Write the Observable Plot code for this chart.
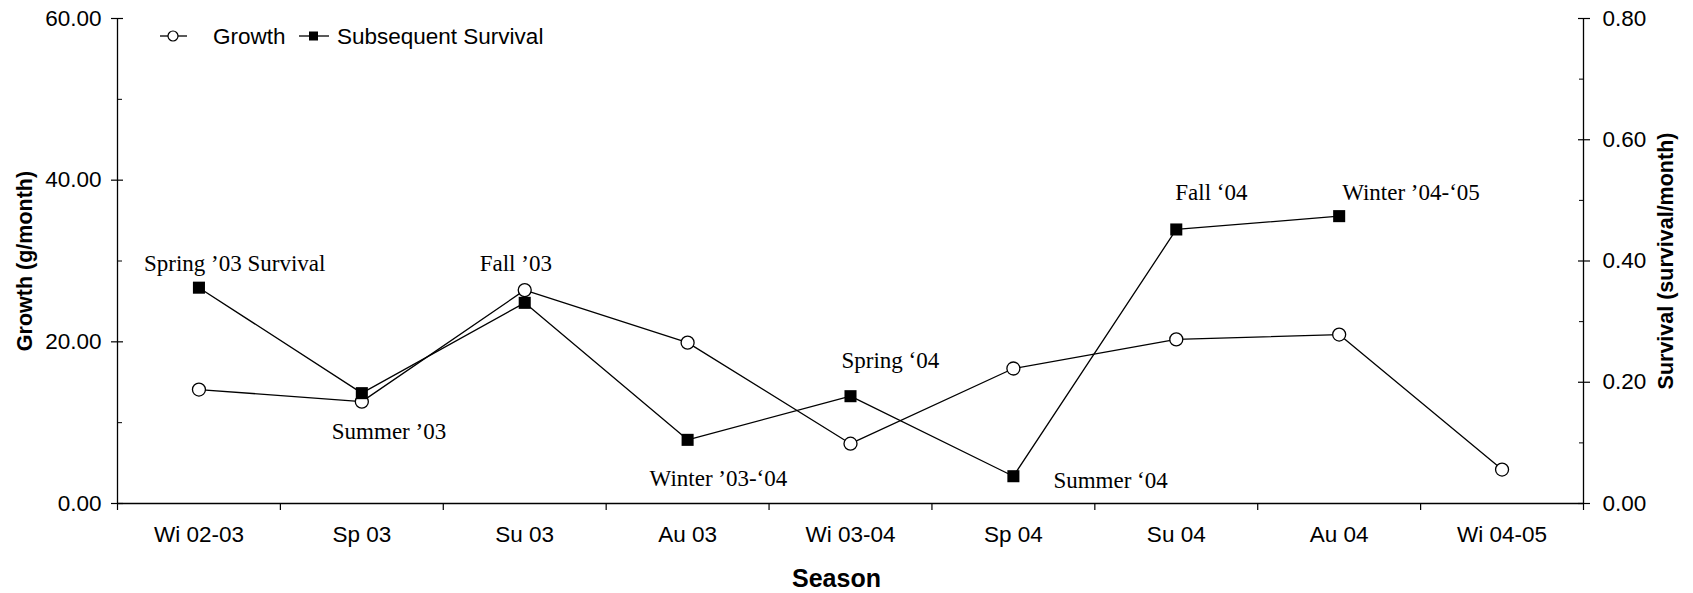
<!DOCTYPE html>
<html>
<head>
<meta charset="utf-8">
<script src="https://cdn.jsdelivr.net/npm/d3@7"></script>
<script src="https://cdn.jsdelivr.net/npm/@observablehq/plot@0.6"></script>
<style>
  body { margin: 0; background: #fff; }
  #wrap { position: relative; width: 1693px; height: 593px; }
  #legend { position: absolute; left: 0; top: 0; }
</style>
</head>
<body>
<div id="wrap"></div>
<script>
// ---- data ----
const seasons = ["Wi 02-03", "Sp 03", "Su 03", "Au 03", "Wi 03-04", "Sp 04", "Su 04", "Au 04", "Wi 04-05"];
const growth = [14.1, 12.6, 26.4, 19.9, 7.4, 16.7, 20.3, 20.9, 4.2];
const survival = [0.356, 0.182, 0.331, 0.105, 0.177, 0.045, 0.452, 0.474, null];
const annotations = ["Spring ’03 Survival", "Summer ’03", "Fall ’03", "Winter ’03-‘04", "Spring ‘04", "Summer ‘04", "Fall ‘04", "Winter ’04-‘05"];
const growthTicks = [0, 20, 40, 60];
const growthMinorTicks = [10, 30, 50];
const survivalTicks = [0, 0.2, 0.4, 0.6, 0.8];
const survivalMinorTicks = [0.1, 0.3, 0.5, 0.7];
const seriesNames = ["Growth", "Subsequent Survival"];
const xTitle = "Season";
const yLeftTitle = "Growth (g/month)";
const yRightTitle = "Survival (survival/month)";

// ---- layout ----
const growthMax = 60, survivalMax = 0.8;
const k = growthMax / survivalMax; // survival -> growth units
const labelOffsets = [[-55, -24], [-30, 38], [-45, -39], [-38, 39], [-9, -36], [40, 4], [-1, -37], [3, -24]];

const rows = seasons.map((s, i) => ({i, season: s, growth: growth[i], survival: survival[i]}));
const survRows = rows.filter(d => d.survival != null);
const xPos = d => d.i + 0.5;
const ySurv = d => d.survival * k;
const sans = "'Liberation Sans', Arial, sans-serif";
const serif = "'Liberation Serif', 'Times New Roman', serif";
const blank = () => "";
const tickFont = 22.5;

const annotationMarks = survRows.map((d, j) =>
  Plot.text([d], {
    x: xPos, y: ySurv, text: () => annotations[j],
    dx: labelOffsets[j][0], dy: labelOffsets[j][1],
    textAnchor: "start", fontFamily: serif, fontSize: 23, fill: "black"
  })
);

const chart = Plot.plot({
  width: 1693,
  height: 593,
  marginLeft: 117,
  marginRight: 110,
  marginTop: 18,
  marginBottom: 90,
  style: {fontFamily: sans, background: "white", color: "black", overflow: "visible"},
  x: {domain: [0, seasons.length], axis: null},
  y: {domain: [0, growthMax], axis: null},
  marks: [
    // axis lines
    Plot.ruleY([0], {stroke: "black", strokeWidth: 1.3}),
    Plot.ruleX([0], {stroke: "black", strokeWidth: 1.3}),
    Plot.ruleX([seasons.length], {stroke: "black", strokeWidth: 1.3}),
    // x ticks at category boundaries
    Plot.axisX(d3.range(0, seasons.length + 1), {anchor: "bottom", tickSize: 7, tickFormat: blank, label: null, strokeWidth: 1.2}),
    // x tick labels
    Plot.text(rows, {x: xPos, y: () => 0, dy: 31, text: "season", fontSize: tickFont, fill: "black"}),
    // left axis
    Plot.axisY(growthTicks, {anchor: "left", tickSize: 6, tickPadding: 10, tickFormat: d3.format(".2f"), fontSize: tickFont, label: null, strokeWidth: 1.2}),
    Plot.axisY(growthTicks, {anchor: "left", tickSize: 6, dx: 6, tickFormat: blank, label: null, strokeWidth: 1.2}),
    Plot.axisY(growthMinorTicks, {anchor: "left", tickSize: 5, dx: 5, tickFormat: blank, label: null, strokeWidth: 1}),
    // right axis
    Plot.axisY(survivalTicks.map(v => v * k), {anchor: "right", tickSize: 6, tickPadding: 13, tickFormat: v => (v / k).toFixed(2), fontSize: tickFont, label: null, strokeWidth: 1.2}),
    Plot.axisY(survivalTicks.map(v => v * k), {anchor: "right", tickSize: 6, dx: -6, tickFormat: blank, label: null, strokeWidth: 1.2}),
    Plot.axisY(survivalMinorTicks.map(v => v * k), {anchor: "right", tickSize: 5, dx: -5, tickFormat: blank, label: null, strokeWidth: 1}),
    // axis titles
    Plot.text([xTitle], {text: d => d, frameAnchor: "bottom", textAnchor: "middle", lineAnchor: "middle", dx: -14, dy: 75, fontSize: 25, fontWeight: "bold", fill: "black"}),
    Plot.text([yLeftTitle], {text: d => d, frameAnchor: "left", textAnchor: "middle", lineAnchor: "middle", rotate: -90, dx: -92, fontSize: 21.5, fontWeight: "bold", fill: "black"}),
    Plot.text([yRightTitle], {text: d => d, frameAnchor: "right", textAnchor: "middle", lineAnchor: "middle", rotate: -90, dx: 83, fontSize: 21.5, fontWeight: "bold", fill: "black"}),
    // series
    Plot.line(rows, {x: xPos, y: "growth", stroke: "black", strokeWidth: 1.3}),
    Plot.dot(rows, {x: xPos, y: "growth", r: 6.5, fill: "white", stroke: "black", strokeWidth: 1.3}),
    Plot.line(survRows, {x: xPos, y: ySurv, stroke: "black", strokeWidth: 1.3}),
    Plot.dot(survRows, {x: xPos, y: ySurv, r: 6.8, symbol: "square", fill: "black", stroke: "none"}),
    ...annotationMarks
  ]
});

const wrap = document.getElementById("wrap");
wrap.appendChild(chart);

// legend overlay
const ns = "http://www.w3.org/2000/svg";
const leg = document.createElementNS(ns, "svg");
leg.setAttribute("id", "legend");
leg.setAttribute("width", 620);
leg.setAttribute("height", 60);
const ly = 36;
function el(tag, attrs) {
  const e = document.createElementNS(ns, tag);
  for (const [a, v] of Object.entries(attrs)) e.setAttribute(a, v);
  leg.appendChild(e);
  return e;
}
el("line", {x1: 160, x2: 187, y1: ly, y2: ly, stroke: "black", "stroke-width": 1.3});
el("circle", {cx: 173, cy: ly, r: 5, fill: "white", stroke: "black", "stroke-width": 1.2});
const t1 = el("text", {x: 213, y: ly, dy: "0.35em", "font-family": sans, "font-size": 22.5, fill: "black"});
t1.textContent = seriesNames[0];
el("line", {x1: 299, x2: 329, y1: ly, y2: ly, stroke: "black", "stroke-width": 1.3});
el("rect", {x: 309, y: ly - 4.5, width: 9, height: 9, fill: "black"});
const t2 = el("text", {x: 337, y: ly, dy: "0.35em", "font-family": sans, "font-size": 22.5, fill: "black"});
t2.textContent = seriesNames[1];
wrap.appendChild(leg);
</script>
</body>
</html>
